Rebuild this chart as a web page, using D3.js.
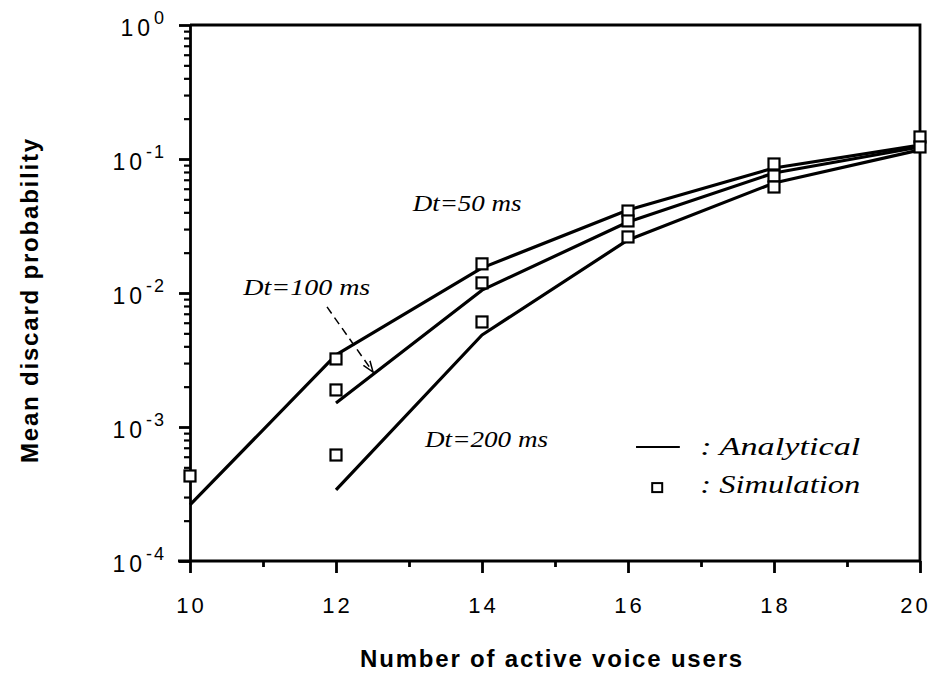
<!DOCTYPE html>
<html><head><meta charset="utf-8">
<script src="https://cdn.jsdelivr.net/npm/d3@7"></script>
<style>body{margin:0;background:#fff}</style>
</head><body><svg id="c" width="935" height="676"></svg>
<script>
// ---- data ----
const users = [10, 12, 14, 16, 18, 20];
const analytic50  = [2.62e-4, 3.45e-3, 0.0154, 0.0416, 0.0857, 0.127];
const analytic100 = [null, 1.51e-3, 0.0105, 0.0339, 0.0786, 0.123];
const analytic200 = [null, 3.39e-4, 0.00486, 0.0249, 0.0662, 0.117];
const simUsers  = [10, 12, 12, 12, 14, 14, 14, 16, 16, 16, 18, 18, 18, 20, 20];
const simValues = [4.31e-4, 3.22e-3, 1.89e-3, 6.18e-4, 0.0165, 0.0119, 0.00608,
                   0.0409, 0.0345, 0.0262, 0.0918, 0.0747, 0.0618, 0.146, 0.123];
const xTicks = [10, 12, 14, 16, 18, 20];
const xMinorTicks = [11, 13, 15, 17, 19];
const yExponents = [-4, -3, -2, -1, 0];
const curveLabels = ["Dt=50 ms", "Dt=100 ms", "Dt=200 ms"];
const legendLabels = [": Analytical", ": Simulation"];

// ---- layout ----
const svg = d3.select("#c");
const x = d3.scaleLinear().domain([10, 20]).range([190, 920]);
const y = d3.scaleLog().domain([1e-4, 1]).range([561, 25]);

const sans = "'Liberation Sans', Arial, Helvetica, sans-serif";
const serif = "'Liberation Serif', 'DejaVu Serif', serif";

// frame (top and right)
svg.append("path")
  .attr("d", `M${x(10)},${y(1)}H${x(20)}V${y(1e-4)}`)
  .attr("fill", "none").attr("stroke", "#000").attr("stroke-width", 2.8);

// x axis
const gx = svg.append("g").attr("transform", `translate(0,${y(1e-4)})`)
  .call(d3.axisBottom(x).tickValues(xTicks).tickSize(12).tickSizeOuter(0).tickFormat(d3.format("d")));
gx.select(".domain").attr("stroke-width", 2.8).attr("d", `M${x(10) - 12},0H${x(20)}`);
gx.selectAll(".tick line").attr("stroke-width", 2.8);
gx.selectAll(".tick text").attr("font-family", sans).attr("font-size", 22)
  .attr("letter-spacing", 3).attr("y", 52).attr("dy", null)
  .attr("dx", (d, i) => i === xTicks.length - 1 ? -5 : 1).attr("fill", "#000");
const gxm = svg.append("g").attr("transform", `translate(0,${y(1e-4)})`)
  .call(d3.axisBottom(x).tickValues(xMinorTicks).tickSize(6).tickSizeOuter(0).tickFormat(""));
gxm.select(".domain").remove();
gxm.selectAll(".tick line").attr("stroke-width", 2.8);

// y axis
const gy = svg.append("g").attr("transform", `translate(${x(10)},0)`)
  .call(d3.axisLeft(y).tickValues(yExponents.map(e => Math.pow(10, e))).tickSize(11).tickSizeOuter(0).tickFormat(""));
gy.select(".domain").attr("stroke-width", 2.8);
gy.selectAll(".tick line").attr("stroke-width", 2.8);
gy.selectAll(".tick text").remove();
gy.selectAll(".tick").each(function(d, i) {
  const t = d3.select(this).append("text")
    .attr("x", -24).attr("y", 10).attr("text-anchor", "end")
    .attr("font-family", sans).attr("fill", "#000");
  t.append("tspan").attr("font-size", 23).attr("letter-spacing", 4).text("10");
  t.append("tspan").attr("font-size", 18).attr("letter-spacing", 2).attr("dy", -12).text(String(yExponents[i]));
});
const minorVals = [];
yExponents.slice(0, -1).forEach(e => { for (let k = 2; k <= 9; k++) minorVals.push(k * Math.pow(10, e)); });
const gym = svg.append("g").attr("transform", `translate(${x(10)},0)`)
  .call(d3.axisLeft(y).tickValues(minorVals).tickSize(6).tickSizeOuter(0).tickFormat(""));
gym.select(".domain").remove();
gym.selectAll(".tick line").attr("stroke-width", 2.2);

// axis titles
svg.append("text").attr("x", (x(10) + x(20)) / 2 - 3).attr("y", 667)
  .attr("text-anchor", "middle").attr("font-family", sans).attr("font-weight", "bold")
  .attr("font-size", 24).attr("letter-spacing", 1.8).attr("fill", "#000")
  .text("Number of active voice users");
svg.append("text").attr("transform", `translate(38,300) rotate(-90)`)
  .attr("text-anchor", "middle").attr("font-family", sans).attr("font-weight", "bold")
  .attr("font-size", 24).attr("letter-spacing", 1.8).attr("fill", "#000")
  .text("Mean discard probability");

// analytical lines
const line = d3.line().defined(d => d[1] != null).x(d => x(d[0])).y(d => y(d[1]));
[analytic50, analytic100, analytic200].forEach(s => {
  svg.append("path").datum(users.map((u, i) => [u, s[i]]))
    .attr("d", line).attr("fill", "none").attr("stroke", "#000")
    .attr("stroke-width", 3.2).attr("stroke-linejoin", "round");
});

// simulation squares
const sq = 11;
svg.append("g").selectAll("rect").data(simUsers.map((u, i) => [u, simValues[i]])).join("rect")
  .attr("x", d => x(d[0]) - sq / 2).attr("y", d => y(d[1]) - sq / 2)
  .attr("width", sq).attr("height", sq)
  .attr("fill", "#fff").attr("stroke", "#000").attr("stroke-width", 2.2);

// curve labels (positions in data coordinates)
const labelPos = [[13.05, 0.0409, 109], [10.73, 0.00966, 127], [13.22, 7.1e-4, 123]];
labelPos.forEach((p, i) => {
  svg.append("text").attr("x", x(p[0])).attr("y", y(p[1]))
    .attr("font-family", serif).attr("font-style", "italic").attr("font-size", 23)
    .attr("textLength", p[2]).attr("lengthAdjust", "spacingAndGlyphs").attr("fill", "#000")
    .text(curveLabels[i]);
});

// dashed arrow
svg.append("defs").append("marker").attr("id", "arr")
  .attr("viewBox", "0 0 12 12").attr("refX", 11).attr("refY", 6)
  .attr("markerWidth", 12).attr("markerHeight", 12).attr("markerUnits", "userSpaceOnUse")
  .attr("orient", "auto")
  .append("path").attr("d", "M0,2 L11,6 L0,10").attr("fill", "none").attr("stroke", "#000").attr("stroke-width", 1.5);
const arrowFrom = [11.877, 0.00787], arrowTo = [12.507, 0.00257];
svg.append("line").attr("x1", x(arrowFrom[0])).attr("y1", y(arrowFrom[1]))
  .attr("x2", x(arrowTo[0])).attr("y2", y(arrowTo[1]))
  .attr("stroke", "#000").attr("stroke-width", 1.5).attr("stroke-dasharray", "8,5")
  .attr("marker-end", "url(#arr)");

// legend (data coordinates)
const legLine = [16.11, 16.71, 7.1e-4];
svg.append("line").attr("x1", x(legLine[0])).attr("x2", x(legLine[1]))
  .attr("y1", y(legLine[2])).attr("y2", y(legLine[2]))
  .attr("stroke", "#000").attr("stroke-width", 2);
const legSq = [16.40, 3.5e-4];
svg.append("rect").attr("x", x(legSq[0]) - 5).attr("y", y(legSq[1]) - 5)
  .attr("width", 10).attr("height", 9).attr("fill", "#fff").attr("stroke", "#000").attr("stroke-width", 2);
const legText = [[16.99, 6.18e-4], [16.99, 3.2e-4]];
legText.forEach((p, i) => {
  svg.append("text").attr("x", x(p[0])).attr("y", y(p[1]))
    .attr("font-family", serif).attr("font-style", "italic").attr("font-size", 25)
    .attr("textLength", 160).attr("lengthAdjust", "spacingAndGlyphs").attr("fill", "#000")
    .text(legendLabels[i]);
});
</script></body></html>
